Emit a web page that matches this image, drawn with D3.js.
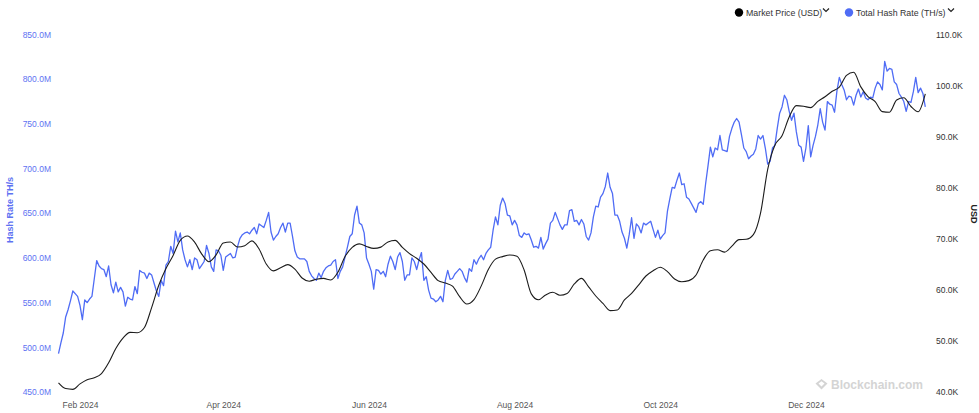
<!DOCTYPE html>
<html><head><meta charset="utf-8">
<script src="https://cdn.jsdelivr.net/npm/d3@7"></script>
<style>
html,body{margin:0;padding:0;background:#fff;}
svg{display:block;font-family:"Liberation Sans",Arial,sans-serif;}
</style></head><body>
<svg id="chart" width="979" height="413"></svg>
<script>
// ---- data ----
const hashStart = "2024-01-23";           // daily series
const hashRateM = [
493,505,516,534,542,552,563,560,557,547,
531,553,550,554,557,577,597,591,588,587,
579,591,570,561,573,562,567,562,546,556,
554,553,568,560,586,584,583,577,583,581,
572,563,557,575,569,592,596,613,605,630,
618,628,609,598,590,598,587,600,598,588,
592,596,614,605,590,585,609,608,603,586,
601,603,605,600,601,613,622,626,628,629,
627,631,634,627,638,636,634,642,651,629,
620,624,627,634,639,629,639,639,624,608,
601,599,599,599,596,585,580,577,575,583,
578,585,589,591,592,596,598,577,585,590,
601,612,624,627,648,658,639,637,628,600,
593,585,565,587,586,582,585,579,593,602,
596,587,601,606,596,575,581,581,600,596,
587,598,606,575,579,564,555,554,551,553,
557,551,575,586,576,577,582,585,588,585,
578,573,588,585,598,593,599,603,598,605,
609,612,631,646,637,659,667,661,648,647,
637,642,637,625,623,628,626,627,620,612,
613,611,623,610,616,621,639,642,651,644,
637,632,637,637,653,654,641,642,637,643,
638,624,620,628,646,658,657,668,672,680,
695,679,672,648,648,641,629,622,611,626,
645,622,638,635,628,639,637,639,641,632,
623,631,621,625,628,652,666,679,678,687,
695,682,683,668,666,661,656,651,661,663,
660,683,703,724,713,723,721,737,721,720,
719,736,745,752,756,752,738,723,719,711,
714,716,722,737,733,737,723,705,708,723,
726,745,762,769,782,777,764,754,762,741,
726,724,708,723,748,713,726,736,749,767,
752,743,775,772,771,763,787,802,794,788,
777,781,780,771,782,789,780,786,779,777,
780,779,790,797,794,788,820,809,812,811,
797,794,784,780,775,764,775,774,786,802,
785,790,784,769
];
const priceStart = "2024-01-23";
const priceStepDays = 3;
const priceUSD = [
41800,40670,40510,41590,42410,42800,43620,45720,48520,50570,
51670,51610,52630,56530,60890,64160,66750,69690,70550,69330,
67000,65510,66840,69190,69370,68390,68650,69590,68000,65060,
63710,64320,64950,64050,62320,61700,62090,62240,61930,63440,
66530,68310,69000,68490,68120,68370,69390,69690,68310,67100,
66180,65060,63420,61810,61340,60730,58660,57230,58090,60730,
63990,66020,66510,66830,66570,63890,59210,58050,59010,59520,
58930,59290,61150,62240,60580,58800,57350,55940,56060,58020,
59310,60990,62710,63750,64440,63580,62130,61600,61810,62910,
65850,67670,67840,67390,68550,69840,69900,70800,75010,83590,
88310,90170,93850,96080,95960,95690,96900,97820,98880,99700,
102010,102620,99740,97840,96860,94900,94790,97170,97620,95900,
94880,98390
];
const xTickDates = ["2024-02-01","2024-04-01","2024-06-01","2024-08-01","2024-10-01","2024-12-01"];
const hashTicks = [450,500,550,600,650,700,750,800,850];
const priceTicks = [40000,50000,60000,70000,80000,90000,100000,110000];
const legendLabels = ["Market Price (USD)", "Total Hash Rate (TH/s)"];
const leftTitle = "Hash Rate TH/s";
const rightTitle = "USD";
const watermark = "Blockchain.com";

// ---- styles ----
const BLUE = "#4f6cf5", BLUE_TXT = "#5e72f2", BLACK = "#1c1c1c";
const FONT = "'Liberation Sans', Arial, sans-serif";

const svg = d3.select("#chart");
const parse = d3.timeParse("%Y-%m-%d");
const t0 = parse(hashStart);
const hashData = hashRateM.map((v,i)=>({date:d3.timeDay.offset(t0,i), v}));
const p0 = parse(priceStart);
const priceData = priceUSD.map((v,i)=>({date:d3.timeDay.offset(p0,i*priceStepDays), v}));

const x = d3.scaleTime().domain([t0, d3.timeDay.offset(t0, hashRateM.length-1)]).range([58.5, 925.3]);
const yH = d3.scaleLinear().domain([450,850]).range([392,34.5]);
const yP = d3.scaleLinear().domain([40000,110000]).range([392,34.5]);

function styleAxis(g, color){
  g.attr("font-family", FONT).attr("font-size", 8.5);
  g.select(".domain").remove();
  g.selectAll("line").remove();
  g.selectAll("text").attr("fill", color);
}

svg.append("g").attr("transform","translate(54,0)")
  .call(d3.axisLeft(yH).tickValues(hashTicks).tickSize(0).tickPadding(3).tickFormat(d=>d.toFixed(1)+"M"))
  .call(g=>styleAxis(g, BLUE_TXT));

svg.append("g").attr("transform","translate(933,0)")
  .call(d3.axisRight(yP).tickValues(priceTicks).tickSize(0).tickPadding(3).tickFormat(d=>(d/1000).toFixed(1)+"K"))
  .call(g=>styleAxis(g, "#333"));

svg.append("g").attr("transform","translate(0,392)")
  .call(d3.axisBottom(x).tickValues(xTickDates.map(parse)).tickSize(0).tickPadding(10).tickFormat(d3.timeFormat("%b %Y")))
  .call(g=>styleAxis(g, "#555"));

// axis titles
svg.append("text").attr("transform","translate(13,210) rotate(-90)")
  .attr("text-anchor","middle").attr("font-family",FONT).attr("font-size",9).attr("font-weight","bold")
  .attr("fill",BLUE_TXT).text(leftTitle);
svg.append("text").attr("transform","translate(971,214) rotate(90)")
  .attr("text-anchor","middle").attr("font-family",FONT).attr("font-size",9).attr("font-weight","bold")
  .attr("fill","#222").text(rightTitle);

// watermark
const wm = svg.append("g").attr("fill","#d4d4d4");
wm.append("path").attr("d","M815.5,383.5 L821.5,379 L827.5,383.5 L821.5,389.5 Z");
wm.append("path").attr("d","M818.5,383.5 L821.5,381.3 L824.5,383.5 L821.5,386.5 Z").attr("fill","#fff");
wm.append("text").attr("x",831).attr("y",389).attr("font-family",FONT).attr("font-size",12)
  .attr("font-weight","bold").text(watermark);

// lines
svg.append("path").datum(hashData)
  .attr("fill","none").attr("stroke",BLUE).attr("stroke-width",1.3).attr("stroke-linejoin","round")
  .attr("d", d3.line().x(d=>x(d.date)).y(d=>yH(d.v)));
svg.append("path").datum(priceData)
  .attr("fill","none").attr("stroke",BLACK).attr("stroke-width",1.1)
  .attr("d", d3.line().curve(d3.curveMonotoneX).x(d=>x(d.date)).y(d=>yP(d.v)));

// legend
const legendItems = [
  {label: legendLabels[0], color:"#000", cx:739, tx:746, chev:823},
  {label: legendLabels[1], color:"#4f6cf5", cx:849, tx:856, chev:948}
];
const lg = svg.append("g");
legendItems.forEach(it=>{
  lg.append("circle").attr("cx",it.cx).attr("cy",12.5).attr("r",4.2).attr("fill",it.color);
  lg.append("text").attr("x",it.tx).attr("y",12.5).attr("dy","0.35em")
    .attr("font-family",FONT).attr("font-size",8.8).attr("fill","#333").text(it.label);
  lg.append("path").attr("d",`M${it.chev},8.5 L${it.chev+3},11.5 L${it.chev+6},8.5`)
    .attr("fill","none").attr("stroke","#222").attr("stroke-width",1.2);
});
</script>
</body></html>
